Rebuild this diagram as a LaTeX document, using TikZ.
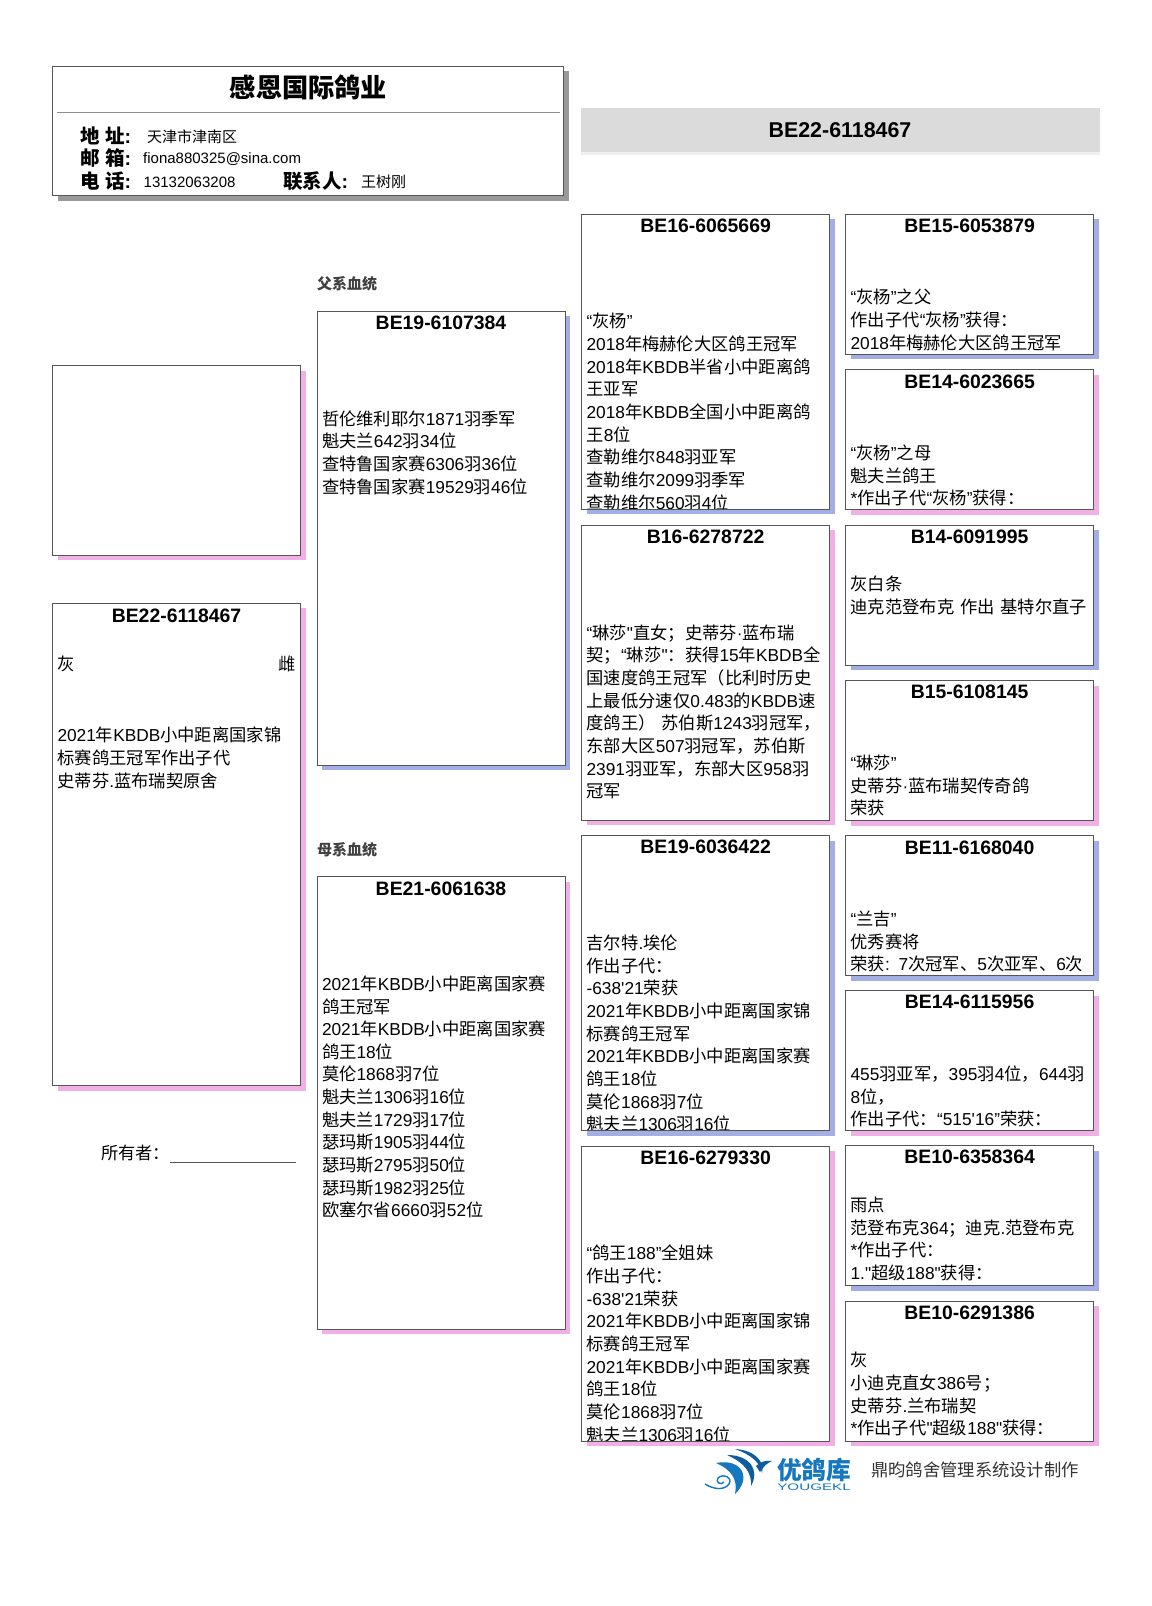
\documentclass[tikz,border=0pt]{standalone}
\usepackage{fontspec}
\usepackage{xcolor}
\usetikzlibrary{positioning,shadows}
\setmainfont{Liberation Sans}
\newfontfamily\latinf{Liberation Sans}
\newfontfamily\cjkf{Noto Sans CJK SC}
% CJK characters switch font by themselves
\XeTeXinterchartokenstate=1
\newXeTeXintercharclass\cjkcls
\count255="3000
\loop\XeTeXcharclass\count255=\cjkcls\ifnum\count255<"303F\advance\count255 by 1\repeat
\count255="4E00
\loop\XeTeXcharclass\count255=\cjkcls\ifnum\count255<"9FFF\advance\count255 by 1\repeat
\count255="FF00
\loop\XeTeXcharclass\count255=\cjkcls\ifnum\count255<"FFEF\advance\count255 by 1\repeat
\XeTeXinterchartoks 0 \cjkcls={\cjkf}
\XeTeXinterchartoks 4095 \cjkcls={\cjkf}
\XeTeXinterchartoks \cjkcls 0={\latinf}
\XeTeXinterchartoks \cjkcls 4095={\latinf}
\definecolor{boxline}{HTML}{555555}
\definecolor{penblue}{HTML}{A3AEE4}
\definecolor{penpink}{HTML}{F0B0E6}
\definecolor{logoblue}{HTML}{1577BD}
\definecolor{logodark}{HTML}{0F5C9E}
\tikzset{
  pedbox/.style={draw=boxline, fill=white, line width=0.9pt, anchor=north west, inner sep=0pt, outer sep=0pt,
    minimum width=248pt, drop shadow={shadow xshift=5pt, shadow yshift=-5pt, fill=#1, opacity=1}},
  bigbox/.style={pedbox=#1, minimum height=295pt},
  smallbox/.style={pedbox=#1, minimum height=140pt},
  bodytext/.style={anchor=north west, inner sep=0pt, minimum width=0pt, minimum height=0pt, text width=238.5pt, align=left,
    font=\fontsize{17.3}{22.65}\selectfont, execute at begin node=\strut},
  lines/.style n args={3}{path picture={\node[bodytext] (#1) at ([shift={(5,#2)}]path picture bounding box.north west) {#3};}},
  pedtitle/.style={anchor=center, inner sep=0pt, font=\fontsize{19.4}{22}\selectfont\bfseries},
  headkey/.style={anchor=west, inner sep=0pt, font=\fontsize{19.5}{22}\selectfont\bfseries},
  headval/.style={anchor=west, inner sep=0pt, font=\fontsize{15}{18}\selectfont},
  linehead/.style={anchor=west, inner sep=0pt, text=black!75, font=\fontsize{15}{18}\selectfont\bfseries},
}
\begin{document}
\begin{tikzpicture}[x=1pt, y=-1pt]
\useasboundingbox (0,0) rectangle (1151,1606);
% loft header
\node[pedbox=black!40, minimum width=511pt, minimum height=129.5pt] (loft) at (52.5,66) {};
\node[inner sep=0pt, font=\fontsize{26.2}{28}\selectfont\bfseries] (loftname) at (308.5,87.5) {感恩国际鸽业};
\coordinate (rulel) at (57,112);
\coordinate (ruler) at (560,112);
\draw[black!45, line width=0.9pt] (rulel)--(ruler);
\node[headkey] (addrkey) at (80,135.5) {地 址:};
\node[headval] (addr) at (147,137) {天津市津南区};
\node[headkey] (mailkey) at (80,158.5) {邮 箱:};
\node[headval] (mail) at (143,159) {fiona880325@sina.com};
\node[headkey] (telkey) at (80,181.5) {电 话:};
\node[headval] (tel) at (143.5,182) {13132063208};
\node[headkey] (contactkey) at (283,181.5) {联系人:};
\node[headval] (contact) at (361,182) {王树刚};
% ring number band
\fill[black!6] (581,151) rectangle (1100,155);
\node[anchor=north west, fill=black!14, minimum width=519pt, minimum height=44pt, inner sep=0pt] (band) at (581,108) {};
\node[inner sep=0pt, font=\fontsize{21.4}{24}\selectfont\bfseries] (ring) at (840,130) {BE22-6118467};
% the bird and its photo
\node[pedbox=penpink, minimum height=189.5pt] (photo) at (52.5,365.6) {};
\node[pedbox=penpink, minimum height=482.5pt, lines={selfbody}{52}{灰\hfill 雌\\[1pt]\strut\\[1pt]\strut\\[1pt]2021年KBDB小中距离国家锦\\标赛鸽王冠军作出子代\\史蒂芬.蓝布瑞契原舍}] (self) at (52.5,603) {};
\node[pedtitle] (selft) at ([yshift=-12.5pt]self.north) {BE22-6118467};
\node[anchor=west, inner sep=0pt, font=\fontsize{17.2}{20}\selectfont] (owner) at (101,1153) {所有者：};
\coordinate (ownerl) at (170,1162);
\coordinate (ownerr) at (295.5,1162);
\draw[boxline, line width=1pt] (ownerl)--(ownerr);
% parents
\node[linehead] (sireline) at (317,284) {父系血统};
\node[pedbox=penblue, minimum height=453.7pt, lines={sirebody}{98}{哲伦维利耶尔1871羽季军\\魁夫兰642羽34位\\查特鲁国家赛6306羽36位\\查特鲁国家赛19529羽46位}] (sire) at (317,311.3) {};
\node[pedtitle] (siret) at ([yshift=-12pt]sire.north) {BE19-6107384};
\node[linehead] (damline) at (317,850) {母系血统};
\node[pedbox=penpink, minimum height=452.5pt, lines={dambody}{98}{2021年KBDB小中距离国家赛\\鸽王冠军\\2021年KBDB小中距离国家赛\\鸽王18位\\莫伦1868羽7位\\魁夫兰1306羽16位\\魁夫兰1729羽17位\\瑟玛斯1905羽44位\\瑟玛斯2795羽50位\\瑟玛斯1982羽25位\\欧塞尔省6660羽52位}] (dam) at (317,876.5) {};
\node[pedtitle] (damt) at ([yshift=-12pt]dam.north) {BE21-6061638};
% grandparents
\node[bigbox=penblue, lines={ssbody}{98}{“灰杨”\\2018年梅赫伦大区鸽王冠军\\2018年KBDB半省小中距离鸽\\王亚军\\2018年KBDB全国小中距离鸽\\王8位\\查勒维尔848羽亚军\\查勒维尔2099羽季军\\查勒维尔560羽4位}] (ss) at (581.6,214) {};
\node[pedtitle] (sst) at ([yshift=-11.5pt]ss.north) {BE16-6065669};
\node[bigbox=penpink, lines={sdbody}{98}{“琳莎"直女；史蒂芬·蓝布瑞\\契；“琳莎"：获得15年KBDB全\\国速度鸽王冠军（比利时历史\\上最低分速仅0.483的KBDB速\\度鸽王） 苏伯斯1243羽冠军，\\东部大区507羽冠军，苏伯斯\\2391羽亚军，东部大区958羽\\冠军}] (sd) at (581.6,525.3) {};
\node[pedtitle] (sdt) at ([yshift=-11.5pt]sd.north) {B16-6278722};
\node[bigbox=penblue, lines={dsbody}{98}{吉尔特.埃伦\\作出子代：\\-638'21荣获\\2021年KBDB小中距离国家锦\\标赛鸽王冠军\\2021年KBDB小中距离国家赛\\鸽王18位\\莫伦1868羽7位\\魁夫兰1306羽16位}] (ds) at (581.6,835.6) {};
\node[pedtitle] (dst) at ([yshift=-11.5pt]ds.north) {BE19-6036422};
\node[bigbox=penpink, lines={ddbody}{98}{“鸽王188”全姐妹\\作出子代：\\-638'21荣获\\2021年KBDB小中距离国家锦\\标赛鸽王冠军\\2021年KBDB小中距离国家赛\\鸽王18位\\莫伦1868羽7位\\魁夫兰1306羽16位}] (dd) at (581.6,1146) {};
\node[pedtitle] (ddt) at ([yshift=-11.5pt]dd.north) {BE16-6279330};
% great grandparents
\node[smallbox=penblue, lines={sssbody}{74}{“灰杨”之父\\作出子代“灰杨”获得：\\2018年梅赫伦大区鸽王冠军}] (sss) at (845.6,214) {};
\node[pedtitle] (ssst) at ([yshift=-11.5pt]sss.north) {BE15-6053879};
\node[smallbox=penpink, lines={ssdbody}{74}{“灰杨”之母\\魁夫兰鸽王\\{}*作出子代“灰杨”获得：}] (ssd) at (845.6,369.5) {};
\node[pedtitle] (ssdt) at ([yshift=-12pt]ssd.north) {BE14-6023665};
\node[smallbox=penblue, lines={sdsbody}{49.5}{灰白条\\迪克范登布克 作出 基特尔直子}] (sds) at (845.6,525.3) {};
\node[pedtitle] (sdst) at ([yshift=-11.5pt]sds.north) {B14-6091995};
\node[smallbox=penpink, lines={sddbody}{73}{“琳莎”\\史蒂芬·蓝布瑞契传奇鸽\\荣获}] (sdd) at (845.6,680.5) {};
\node[pedtitle] (sddt) at ([yshift=-11.5pt]sdd.north) {B15-6108145};
\node[smallbox=penblue, lines={dssbody}{74}{“兰吉”\\优秀赛将\\荣获: 7次冠军、5次亚军、6次}] (dss) at (845.6,835.6) {};
\node[pedtitle] (dsst) at ([yshift=-12pt]dss.north) {BE11-6168040};
\node[smallbox=penpink, lines={dsdbody}{74}{455羽亚军，395羽4位，644羽\\8位，\\作出子代：“515'16”荣获：}] (dsd) at (845.6,990.5) {};
\node[pedtitle] (dsdt) at ([yshift=-11.5pt]dsd.north) {BE14-6115956};
\node[smallbox=penblue, lines={ddsbody}{50}{雨点\\范登布克364；迪克.范登布克\\{}*作出子代：\\1."超级188"获得：}] (dds) at (845.6,1145.5) {};
\node[pedtitle] (ddst) at ([yshift=-11.5pt]dds.north) {BE10-6358364};
\node[smallbox=penpink, lines={dddbody}{50}{灰\\小迪克直女386号；\\史蒂芬.兰布瑞契\\{}*作出子代"超级188"获得：}] (ddd) at (845.6,1301) {};
\node[pedtitle] (dddt) at ([yshift=-11.5pt]ddd.north) {BE10-6291386};
% logo and credit
\fill[logoblue] (716,1463) .. controls (742,1458) and (752,1478) .. (735,1494) .. controls (738,1480) and (732,1470) .. (716,1463);
\fill[logodark] (727,1455) .. controls (750,1455) and (760,1470) .. (751,1486) .. controls (752,1473) and (745,1463) .. (727,1455);
\fill[logodark] (735,1449) .. controls (755,1450) and (765,1462) .. (762,1473) .. controls (760,1463) and (752,1455) .. (735,1449);
\fill[logodark] (756,1466) .. controls (760,1462) and (765,1460) .. (772,1461) .. controls (767,1463) and (764,1466) .. (760,1472) -- cycle;
\draw[logoblue, line width=1.4pt] (705,1484) .. controls (713,1489) and (724,1491) .. (729,1484) .. controls (733,1477) and (723,1473) .. (718,1478) .. controls (715,1482) and (721,1486) .. (724,1482);
\node[anchor=west, inner sep=0pt, text=logoblue, font=\fontsize{24.7}{26}\selectfont\bfseries] (logoname) at (777,1470) {优鸽库};
\node[anchor=west, inner sep=0pt, text=logoblue, xscale=1.6, transform shape, font=\fontsize{9.5}{10}\selectfont] (logolatin) at (777,1487) {YOUGEKL};
\node[anchor=west, inner sep=0pt, text=black!80, font=\fontsize{17.3}{20}\selectfont] (credit) at (871,1470) {鼎昀鸽舍管理系统设计制作};
\end{tikzpicture}
\end{document}
